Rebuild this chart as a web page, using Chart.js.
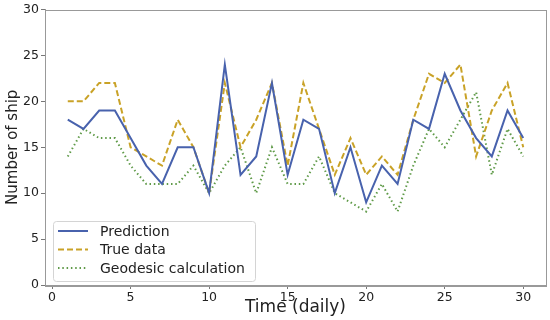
<!DOCTYPE html>
<html lang="en">
<head>
  <meta charset="utf-8">
  <title>Number of ship per day</title>
  <style>
    body { margin: 0; background: #fff; }
  </style>
</head>
<body>
  <canvas id="shipChart" width="550" height="320"></canvas>

  <script src="https://cdn.jsdelivr.net/npm/chart.js@4.4.0/dist/chart.umd.min.js"></script>
  <script>
    // data
    const days = [1, 2, 3, 4, 5, 6, 7, 8, 9, 10, 11, 12, 13, 14, 15, 16, 17, 18, 19, 20, 21, 22, 23, 24, 25, 26, 27, 28, 29, 30];
    const prediction = [18, 17, 19, 19, 16, 13, 11, 15, 15, 10, 24, 12, 14, 22, 12, 18, 17, 10, 15, 9, 13, 11, 18, 17, 23, 19, 16, 14, 19, 16];
    const trueData = [20, 20, 22, 22, 15, 14, 13, 18, 15, 10, 22, 15, 18, 22, 13, 22, 17, 12, 16, 12, 14, 12, 18, 23, 22, 24, 14, 19, 22, 15];
    const geodesic = [14, 17, 16, 16, 13, 11, 11, 11, 13, 10, 13, 15, 10, 15, 11, 11, 14, 10, 9, 8, 11, 8, 13, 17, 15, 18, 21, 12, 17, 14];
    const xTicks = [0, 5, 10, 15, 20, 25, 30];

    const font = 'DejaVu Sans';

    function points(values) {
      return days.map(function (d, i) { return { x: d, y: values[i] }; });
    }

    // box round the plot, like the matplotlib frame
    const frame = {
      id: 'frame',
      afterDraw(chart) {
        const a = chart.chartArea, ctx = chart.ctx;
        ctx.save();
        ctx.strokeStyle = '#999';
        ctx.lineWidth = 1;
        ctx.strokeRect(Math.round(a.left) + 0.5, Math.round(a.top) + 0.5,
          Math.round(a.right - a.left), Math.round(a.bottom - a.top));
        ctx.restore();
      }
    };

    // legend inside the plot, lower left
    const insideLegend = {
      id: 'insideLegend',
      afterDraw(chart) {
        const ctx = chart.ctx;
        const x0 = 53, y0 = 221, w = 202, h = 60;
        ctx.save();
        ctx.beginPath();
        ctx.roundRect(x0 + 0.5, y0 + 0.5, w, h, 3);
        ctx.fillStyle = 'rgba(255,255,255,0.8)';
        ctx.fill();
        ctx.strokeStyle = '#d4d4d4';
        ctx.lineWidth = 1;
        ctx.stroke();
        const rows = [231, 249.5, 268];
        chart.data.datasets.forEach(function (ds, i) {
          const y = rows[i];
          ctx.beginPath();
          ctx.setLineDash(ds.borderDash || []);
          ctx.strokeStyle = ds.borderColor;
          ctx.lineWidth = ds.borderWidth;
          ctx.moveTo(58, y);
          ctx.lineTo(88, y);
          ctx.stroke();
          ctx.setLineDash([]);
          ctx.fillStyle = '#222';
          ctx.font = '14px "' + font + '"';
          ctx.textBaseline = 'middle';
          ctx.fillText(ds.label, 100, y + 1);
        });
        ctx.restore();
      }
    };

    const ctx = document.getElementById('shipChart').getContext('2d');
    new Chart(ctx, {
      type: 'line',
      data: {
        datasets: [
          {
            label: 'Prediction',
            data: points(prediction),
            borderColor: '#4862ad',
            borderWidth: 2,
            pointRadius: 0,
            tension: 0
          },
          {
            label: 'True data',
            data: points(trueData),
            borderColor: '#c9a227',
            borderWidth: 2,
            borderDash: [6, 3],
            pointRadius: 0,
            tension: 0
          },
          {
            label: 'Geodesic calculation',
            data: points(geodesic),
            borderColor: '#5f9a48',
            borderWidth: 2,
            borderDash: [1.5, 2.8],
            pointRadius: 0,
            tension: 0
          }
        ]
      },
      options: {
        responsive: false,
        animation: false,
        devicePixelRatio: 1,
        layout: { padding: { top: 9, right: 4, left: 0, bottom: 0 } },
        plugins: {
          legend: { display: false },
          tooltip: { enabled: false }
        },
        scales: {
          x: {
            type: 'linear',
            min: -0.45,
            max: 31.45,
            afterBuildTicks: function (scale) {
              scale.ticks = xTicks.map(function (v) { return { value: v }; });
            },
            afterFit: function (scale) { scale.height = 35; },
            grid: { drawOnChartArea: false, drawTicks: true, tickLength: 4, color: '#777' },
            border: { display: true, color: '#999' },
            ticks: { color: '#222', padding: 1, maxRotation: 0, font: { family: font, size: 12.5 } },
            title: {
              display: true,
              text: 'Time (daily)',
              color: '#222',
              padding: { top: 0, bottom: 2 },
              font: { family: font, size: 17 }
            }
          },
          y: {
            min: 0,
            max: 30,
            ticks: { stepSize: 5, color: '#222', padding: 2, font: { family: font, size: 12.5 } },
            afterFit: function (scale) { scale.width = 45; },
            grid: { drawOnChartArea: false, drawTicks: true, tickLength: 4, color: '#777' },
            border: { display: true, color: '#999' },
            title: {
              display: true,
              text: 'Number of ship',
              color: '#222',
              padding: { top: 4, bottom: 0 },
              font: { family: font, size: 15 }
            }
          }
        }
      },
      plugins: [frame, insideLegend]
    });
  </script>
</body>
</html>
